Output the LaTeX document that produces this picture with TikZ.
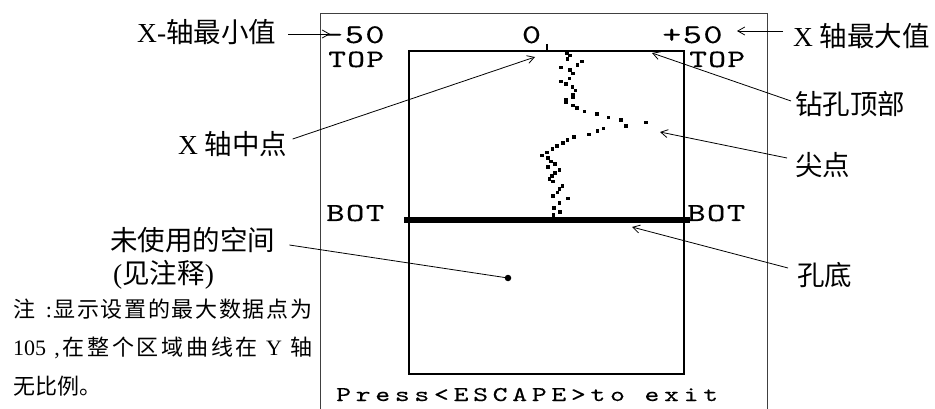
\documentclass[tikz,border=0pt]{standalone}
\usepackage{fontspec}
\usepackage{graphicx}
\setmainfont{Liberation Serif}
\newfontfamily\cjk{Noto Sans CJK SC}
\newfontfamily\lmS[LetterSpace=4,FakeBold=0.2]{lmmono10-regular.otf}
\newfontfamily\lmP[LetterSpace=16.5,FakeBold=0.2]{lmmono10-regular.otf}
\usetikzlibrary{arrows.meta,calc}
\def\sg{\hskip 0pt plus 1fil\relax}
\newcommand{\wide}[1]{\scalebox{1.35}[1]{#1}}
\begin{document}
\begin{tikzpicture}[x=1pt,y=-1pt,
  lab/.style={font=\fontsize{27.5}{30}\selectfont, inner sep=0pt, anchor=base west},
  scrD/.style={font=\lmS\fontsize{27}{29}\selectfont, inner sep=0pt, anchor=base west},
  scrT/.style={font=\lmS\fontsize{25}{27}\selectfont, inner sep=0pt, anchor=base west},
  scrB/.style={font=\lmS\fontsize{26}{28}\selectfont, inner sep=0pt, anchor=base west},
  press/.style={font=\lmP\fontsize{21}{24}\selectfont, inner sep=0pt, anchor=base west},
  note/.style={font=\fontsize{22}{24}\selectfont, inner sep=0pt, anchor=base west},
  lead/.style={line width=0.8pt},
  arr/.style={lead, -{Straight Barb[length=7pt,width=8pt]}},
  frame/.style={line width=1pt, black!75},
  box/.style={line width=2.6pt},
  holebot/.style={line width=6pt},
  dat/.style={fill=black}]
\useasboundingbox (0,0) rectangle (935,409);
% screen frame
\draw[frame] (320,409) -- (320,14) -- (767,14) -- (767,409);
% plot box
\draw[box] (409,51) rectangle (684,374);
\draw[holebot] (404,220) -- (690,220);
\draw[line width=1.5pt] (547,44) -- (547,51);
% screen texts
\node[scrD] (m50) at (324,43) {\wide{-50}};
\node[scrD, anchor=base] (z0) at (531.5,43) {\wide{0}};
\node[scrD] (p50) at (662,43) {\wide{+50}};
\node[scrT] (topl) at (328,67) {\wide{TOP}};
\node[scrT] (topr) at (689,67) {\wide{TOP}};
\node[scrB] (botl) at (326,221) {\wide{BOT}};
\node[scrB] (botr) at (687,221) {\wide{BOT}};
\node[press] (esc) at (336,401) {\wide{Press<ESCAPE>to exit}};
% data points
\foreach \p in {(566.7,53.3),(570,55.7),(567.3,59.3),(581.7,61.7),(577.3,65),(560.7,67.7),(570,70),(572.7,73.7),(569.3,78.7),(560.7,81.7),(565.7,84.3),(572.3,87.3),(575.3,90.7),(572.7,95),(572.7,97.3),(565.7,100),(565.7,102.7),(572.7,105.7),(576.7,108.3),(584.3,111.7),(596.7,114.3),(608.3,117.7),(620.7,120),(646,122.7),(626,126),(603.3,128.7),(597.3,131),(589,134.7),(574,137.3),(567.3,140.3),(562.7,143.3),(556.7,146),(552.3,149),(546.7,152.7),(542,155.7),(547.7,158.3),(551,161.7),(555,164.3),(547.7,167.3),(559.3,170.3),(555,173.3),(551.7,176),(549.3,179.3),(552.7,181.7),(562.3,186),(559.3,189.3),(557.3,192.7),(552.7,196),(567.7,198.7),(559.3,203.3),(554,208.3),(560,212),(553.3,215)}
  \fill[dat] \p ++(-1.8,-1.8) rectangle ++(3.6,3.6);
% target points
\coordinate (xminpt) at (330,34);
\coordinate (xmaxpt) at (737,31);
\coordinate (toppt) at (652,53);
\coordinate (tippt) at (660,132);
\coordinate (botpt) at (632,227);
\coordinate (midpt) at (535,57);
\node[circle, fill, inner sep=0pt, minimum size=6.5pt] (unusedpt) at (508,278) {};
% labels
\node[lab] (xmin) at (137,43) {X-{\cjk 轴最小值}};
\node[lab] (xmax) at (793,47) {X {\cjk 轴最大值}};
\node[lab] (drill) at (795,115) {\cjk 钻孔顶部};
\node[lab] (tip) at (795,176) {\cjk 尖点};
\node[lab] (mid) at (178,155) {X {\cjk 轴中点}};
\node[lab] (bottom) at (797,285) {\cjk 孔底};
\node[lab] (unused) at (110,250) {\cjk 未使用的空间};
\node[lab] (seenote) at (113,283) {({\cjk 见注释})};
\node[note] (n1) at (13,317) {\hbox to 299pt{{\cjk 注}\hskip 9pt plus 1fil :\sg{\cjk 显}\sg{\cjk 示}\sg{\cjk 设}\sg{\cjk 置}\sg{\cjk 的}\sg{\cjk 最}\sg{\cjk 大}\sg{\cjk 数}\sg{\cjk 据}\sg{\cjk 点}\sg{\cjk 为}}};
\node[note] (n2) at (13,355) {\hbox to 299pt{105\sg{} ,\sg{\cjk 在}\sg{\cjk 整}\sg{\cjk 个}\sg{\cjk 区}\sg{\cjk 域}\sg{\cjk 曲}\sg{\cjk 线}\sg{\cjk 在}\sg{} Y\sg{} {\cjk 轴}}};
\node[note] (n3) at (13,394) {\cjk 无比例。};
% connectors
\draw[arr] ($(xmin.base east)+(12,-9)$) -- (xminpt);
\draw[arr] ($(xmax.base west)+(-10,-16)$) -- (xmaxpt);
\draw[arr] ($(drill.base west)+(-4,-14)$) -- (toppt);
\draw[arr] ($(tip.base west)+(-8,-18)$) -- (tippt);
\draw[arr] ($(bottom.base west)+(-9,-17)$) -- (botpt);
\draw[arr] ($(mid.base east)+(5,-16)$) -- (midpt);
\draw[lead] ($(unused.base east)+(14,-5)$) -- (unusedpt.center);
\end{tikzpicture}
\end{document}
